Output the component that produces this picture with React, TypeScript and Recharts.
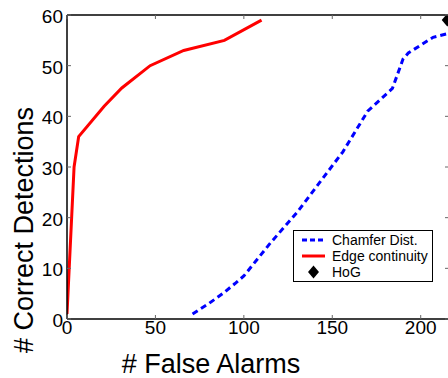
import React from "react";
import {
  ComposedChart,
  Line,
  Scatter,
  XAxis,
  YAxis,
  Legend,
} from "recharts";

// detections vs false alarms for each detector
const chamferAlarms = [71, 80, 88, 95, 100, 115, 130, 143, 156, 170, 184, 190, 193, 207, 215];
const chamferHits = [1, 3, 5, 7, 8.5, 15, 21, 27, 33, 41, 45.5, 51.3, 52.5, 55.6, 56.3];

const edgeAlarms = [0, 4, 6.6, 21, 31, 47, 66, 89, 110];
const edgeHits = [1, 30, 36, 42, 45.6, 50, 53, 55, 59];

const hogAlarms = [215];
const hogHits = [59];

const xTicks = [0, 50, 100, 150, 200];
const yTicks = [0, 10, 20, 30, 40, 50, 60];

const FONT = "'Liberation Sans', Arial, Helvetica, sans-serif";

const chamferData = chamferAlarms.map((x, i) => ({ x, y: chamferHits[i] }));
const edgeData = edgeAlarms.map((x, i) => ({ x, y: edgeHits[i] }));
const hogData = hogAlarms.map((x, i) => ({ x, y: hogHits[i] }));

const BottomTick = ({ x, y, payload }: any) => (
  <g>
    <path d={`M${x},${y}V${y - 4}`} stroke="#666" strokeWidth={1} fill="none" />
    <text x={x} y={y + 15} textAnchor="middle" fontSize={19} fontFamily={FONT} fill="#000">
      {payload.value}
    </text>
  </g>
);

const TopTick = ({ x, y }: any) => (
  <path d={`M${x},${y}V${y + 4}`} stroke="#666" strokeWidth={1} fill="none" />
);

const LeftTick = ({ x, y, payload }: any) => (
  <g>
    <path d={`M${x},${y}H${x + 4}`} stroke="#666" strokeWidth={1} fill="none" />
    <text x={x - 4} y={y + 8} textAnchor="end" fontSize={19} fontFamily={FONT} fill="#000">
      {payload.value}
    </text>
  </g>
);

const RightTick = ({ x, y }: any) => (
  <path d={`M${x},${y}H${x - 4}`} stroke="#666" strokeWidth={1} fill="none" />
);

const XTitle = ({ viewBox }: any) => (
  <text
    x={viewBox.x + 144}
    y={viewBox.y + 54}
    textAnchor="middle"
    fontSize={27}
    fontFamily={FONT}
    fill="#000"
  >
    # False Alarms
  </text>
);

const YTitle = ({ viewBox }: any) => {
  const cx = viewBox.x + 33;
  const cy = viewBox.y + 215;
  return (
    <text
      x={cx}
      y={cy}
      transform={`rotate(-90, ${cx}, ${cy})`}
      textAnchor="middle"
      fontSize={27}
      fontFamily={FONT}
      fill="#000"
    >
      # Correct Detections
    </text>
  );
};

const Diamond = ({ cx, cy }: any) => (
  <polygon
    points={`${cx},${cy - 6.5} ${cx + 5.5},${cy} ${cx},${cy + 6.5} ${cx - 5.5},${cy}`}
    fill="#000"
  />
);

const legendItems = [
  { name: "Chamfer Dist.", kind: "dash" },
  { name: "Edge continuity", kind: "line" },
  { name: "HoG", kind: "diamond" },
];

const LegendBox = () => (
  <div
    style={{
      border: "1.5px solid #000",
      background: "#fff",
      width: 138,
      height: 48,
      padding: "1px 0",
      fontFamily: FONT,
      fontSize: 14,
      color: "#000",
    }}
  >
    {legendItems.map((item) => (
      <div key={item.name} style={{ display: "flex", alignItems: "center", height: 16, lineHeight: "16px" }}>
        <svg width={38} height={16} style={{ display: "block" }}>
          {item.kind === "dash" && (
            <path d="M8,8H31" stroke="#0000ff" strokeWidth={3} strokeDasharray="5 3" />
          )}
          {item.kind === "line" && <path d="M8,8H31" stroke="#ff0000" strokeWidth={3} />}
          {item.kind === "diamond" && <polygon points="19.5,1.5 25,8 19.5,14.5 14,8" fill="#000" />}
        </svg>
        <span style={{ whiteSpace: "nowrap" }}>{item.name}</span>
      </div>
    ))}
  </div>
);

const frameLine = { stroke: "#000", strokeWidth: 1.5 };

export default function App() {
  return (
    <div style={{ position: "fixed", left: 0, top: 0, width: 448, height: 378, overflow: "hidden", background: "#fff" }}>
      <ComposedChart width={450} height={378} margin={{ top: 14, right: 0, bottom: 0, left: 0 }}>
        <XAxis
          dataKey="x"
          type="number"
          domain={[0, 216]}
          ticks={xTicks}
          interval={0}
          allowDataOverflow
          height={59}
          stroke="#000"
          tickSize={0}
          tickMargin={0}
          tickLine={false}
          tick={<BottomTick />}
          axisLine={frameLine}
          label={<XTitle />}
        />
        <XAxis
          xAxisId="top"
          orientation="top"
          dataKey="x"
          type="number"
          domain={[0, 216]}
          ticks={xTicks}
          interval={0}
          allowDataOverflow
          height={1}
          stroke="#000"
          tickSize={0}
          tickMargin={0}
          tickLine={false}
          tick={<TopTick />}
          axisLine={frameLine}
        />
        <YAxis
          type="number"
          domain={[0, 60]}
          ticks={yTicks}
          interval={0}
          allowDataOverflow
          width={67}
          stroke="#000"
          tickSize={0}
          tickMargin={0}
          tickLine={false}
          tick={<LeftTick />}
          axisLine={frameLine}
          label={<YTitle />}
        />
        <YAxis
          yAxisId="right"
          orientation="right"
          type="number"
          domain={[0, 60]}
          ticks={yTicks}
          interval={0}
          allowDataOverflow
          width={1}
          stroke="#000"
          tickSize={0}
          tickMargin={0}
          tickLine={false}
          tick={<RightTick />}
          axisLine={frameLine}
        />
        <Line
          data={chamferData}
          dataKey="y"
          name="Chamfer Dist."
          type="linear"
          stroke="#0000ff"
          strokeWidth={3}
          strokeDasharray="6 4"
          dot={false}
          activeDot={false}
          isAnimationActive={false}
        />
        <Line
          data={edgeData}
          dataKey="y"
          name="Edge continuity"
          type="linear"
          stroke="#ff0000"
          strokeWidth={3}
          dot={false}
          activeDot={false}
          isAnimationActive={false}
        />
        <Scatter data={hogData} dataKey="y" name="HoG" fill="#000" shape={<Diamond />} isAnimationActive={false} />
        <Legend
          layout="horizontal"
          align="center"
          verticalAlign="middle"
          content={<LegendBox />}
          wrapperStyle={{ left: 293, top: 230, width: "auto" }}
        />
      </ComposedChart>
    </div>
  );
}
